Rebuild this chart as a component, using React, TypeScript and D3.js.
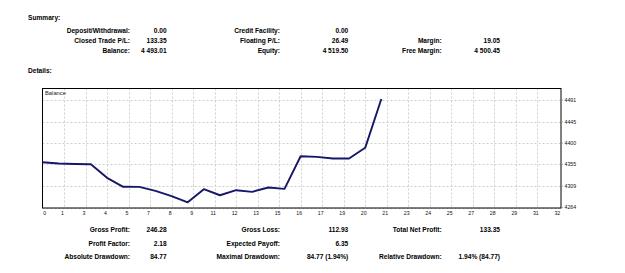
import React from "react";
import * as d3 from "d3";

const balance: number[] = [
  4359.66, 4356.9, 4355.8, 4355.4, 4326.7, 4307.7, 4307.5, 4299.2, 4288.2, 4274.89,
  4302.6, 4289.9, 4300.5, 4297.1, 4306.2, 4303.4, 4372.3, 4371.0, 4367.4, 4367.4,
  4390.0, 4493.01,
];
const xTickLabels: string[] = [
  "0", "1", "3", "4", "5", "7", "8", "9", "11", "12", "13", "15", "16", "17", "19",
  "20", "21", "23", "24", "25", "27", "28", "29", "31", "32",
];
const yTicks: number[] = [4264, 4309, 4355, 4400, 4445, 4491];

const summaryRows: string[][] = [
  ["Deposit/Withdrawal:", "0.00", "Credit Facility:", "0.00", "", ""],
  ["Closed Trade P/L:", "133.35", "Floating P/L:", "26.49", "Margin:", "19.05"],
  ["Balance:", "4 493.01", "Equity:", "4 519.50", "Free Margin:", "4 500.45"],
];
const detailRows: string[][] = [
  ["Gross Profit:", "246.28", "Gross Loss:", "112.93", "Total Net Profit:", "133.35"],
  ["Profit Factor:", "2.18", "Expected Payoff:", "6.35", "", ""],
  ["Absolute Drawdown:", "84.77", "Maximal Drawdown:", "84.77 (1.94%)", "Relative Drawdown:", "1.94% (84.77)"],
];

const W = 625;
const H = 273;
const plotL = 42.5;
const plotR = 561;
const plotT = 88.5;
const plotB = 208;
const xMaxTrades = 32;

export default function App() {
  const xGrid = d3.scaleLinear().domain([0, xTickLabels.length - 1]).range([plotL, 558.8]);
  const x = d3.scaleLinear().domain([0, xMaxTrades]).range([plotL, 558.8]);
  const y = d3.scaleLinear().domain([4264, 4491]).range([207.5, 100]);
  const line = d3
    .line<number>()
    .x((_, i) => x(i))
    .y((d) => y(d));

  const colX = [130, 166.7, 280, 348.3, 441.7, 500];
  const font = "'Liberation Sans', Arial, sans-serif";
  const textStyle = { fontFamily: font, fontWeight: 700, fontSize: 6.6, fill: "#000" } as const;

  const renderRows = (rows: string[][], ys: number[]) =>
    rows.map((row, ri) =>
      row.map((t, ci) =>
        t ? (
          <text key={`${ri}-${ci}`} x={colX[ci]} y={ys[ri] + 2.3} textAnchor="end" style={textStyle}>
            {t}
          </text>
        ) : null
      )
    );

  return (
    <svg
      width={W}
      height={H}
      style={{ position: "absolute", left: 0, top: 0, background: "#fff" }}
    >
      <rect x={0} y={0} width={W} height={H} fill="#fff" />
      <text x={28} y={19.6} style={textStyle}>Summary:</text>
      {renderRows(summaryRows, [30.7, 40.7, 50.7])}
      <text x={28} y={73} style={textStyle}>Details:</text>

      {xTickLabels.slice(1, xTickLabels.length - 1).map((_, i) => (
        <line
          key={`vg${i}`}
          x1={Math.round(xGrid(i + 1)) + 0.5}
          x2={Math.round(xGrid(i + 1)) + 0.5}
          y1={plotT}
          y2={plotB}
          stroke="#cfcfcf"
          strokeDasharray="2,2"
          strokeWidth={1}
        />
      ))}
      {yTicks.map((v) => (
        <line
          key={`hg${v}`}
          x1={plotL}
          x2={plotR}
          y1={Math.round(y(v)) + 0.5}
          y2={Math.round(y(v)) + 0.5}
          stroke="#cfcfcf"
          strokeDasharray="2,2"
          strokeWidth={1}
        />
      ))}

      <rect
        x={plotL}
        y={plotT}
        width={plotR - plotL}
        height={plotB - plotT}
        fill="none"
        stroke="#000"
        strokeWidth={1}
      />
      <text x={45} y={95} style={{ fontFamily: font, fontSize: 5.8, fill: "#222" }}>Balance</text>

      <path d={line(balance) || ""} fill="none" stroke="#16166a" strokeWidth={1.9} strokeLinejoin="round" />

      {xTickLabels.map((t, i) => (
        <text
          key={`xl${i}`}
          x={i === 0 ? 43.2 : xGrid(i) - 1.5}
          y={215.2}
          textAnchor={i === 0 ? "start" : "middle"}
          style={{ fontFamily: font, fontSize: 5.2, fill: "#111" }}
        >
          {t}
        </text>
      ))}

      {yTicks.map((v) => (
        <g key={`yl${v}`}>
          <line x1={plotR} x2={plotR + 2} y1={y(v)} y2={y(v)} stroke="#777" strokeWidth={0.6} />
          <text x={564.5} y={y(v) + 1.9} style={{ fontFamily: font, fontSize: 5.2, fill: "#111" }}>
            {v}
          </text>
        </g>
      ))}

      {renderRows(detailRows, [230, 243.3, 256.7])}
    </svg>
  );
}
